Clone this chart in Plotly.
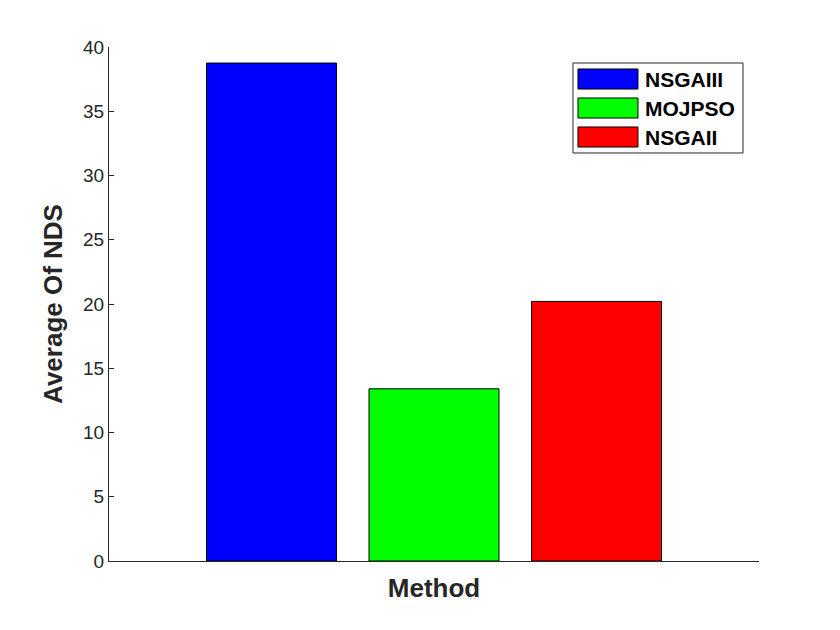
import plotly.graph_objects as go

# data
methods = ["NSGAIII", "MOJPSO", "NSGAII"]
avg_nds = [38.75, 13.4, 20.2]
bar_colors = ["#0000FF", "#00FF00", "#FF0000"]
y_ticks = [0, 5, 10, 15, 20, 25, 30, 35, 40]

FONT = "Liberation Sans, Arial, Helvetica, sans-serif"
TXT = "#262626"

fig = go.Figure()

# one bar per method, placed at 1, 2, 3 like the matlab grouped bar
for i, (name, val, col) in enumerate(zip(methods, avg_nds, bar_colors)):
    fig.add_trace(go.Bar(
        x=[i + 1], y=[val], name=name, width=0.8,
        marker=dict(color=col, line=dict(color="black", width=1)),
        showlegend=False,
    ))

fig.update_layout(
    width=840, height=630,
    margin=dict(l=101, r=89, t=39, b=77),
    paper_bgcolor="white", plot_bgcolor="white",
    font=dict(family=FONT, color=TXT),
)

fig.update_xaxes(
    range=[0, 4], showticklabels=False, ticks="", showgrid=False, zeroline=False,
    showline=True, linecolor=TXT, linewidth=1,
    title=dict(text="<b>Method</b>", font=dict(size=26, color=TXT), standoff=17),
)
fig.update_yaxes(
    range=[0, 40], tickvals=y_ticks, ticks="inside", ticklen=5, tickcolor=TXT,
    showgrid=False, zeroline=False, showline=True, linecolor=TXT, linewidth=1,
    tickfont=dict(size=19, color=TXT),
    title=dict(text="<b>Average Of NDS</b>", font=dict(size=26, color=TXT), standoff=12),
)

# matlab-style legend with wide patches (paper coords)
lx0, lx1, ly0, ly1 = 0.7138, 0.9754, 0.7938, 0.9689
fig.add_shape(type="rect", xref="paper", yref="paper", x0=lx0, x1=lx1, y0=ly0, y1=ly1,
              line=dict(color=TXT, width=1), fillcolor="white", layer="above")
row_top = 0.9572
row_step = 0.0564
patch_h = 0.039
for i, (name, col) in enumerate(zip(methods, bar_colors)):
    top = row_top - i * row_step
    fig.add_shape(type="rect", xref="paper", yref="paper",
                  x0=0.7215, x1=0.8138, y0=top - patch_h, y1=top,
                  line=dict(color="black", width=1), fillcolor=col, layer="above")
    fig.add_annotation(xref="paper", yref="paper", x=0.8215, y=top - patch_h / 2,
                       text="<b>" + name + "</b>", showarrow=False,
                       xanchor="left", yanchor="middle",
                       font=dict(size=21, color="black", family=FONT))

fig.write_html("out.html")
